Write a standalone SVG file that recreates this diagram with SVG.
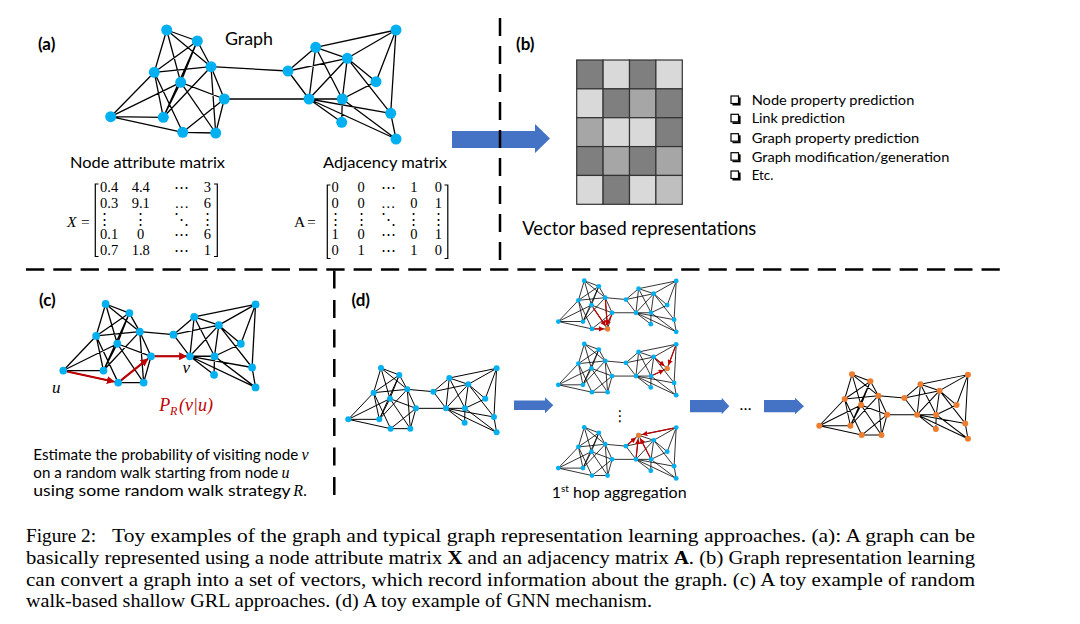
<svg xmlns="http://www.w3.org/2000/svg" width="1080" height="624" viewBox="0 0 1080 624">
<style>
.t{font-family:Lato,"Liberation Sans",sans-serif;fill:#000}
.b{font-weight:bold}
.m{font-family:"Liberation Serif","DejaVu Serif",serif;fill:#000}
.i{font-style:italic}
.cap{font-family:"Liberation Serif","Times New Roman",serif;font-size:19.5px;fill:#000}
.edges{fill:none;stroke:#000}
.dash{fill:none;stroke:#000;stroke-width:2.5}
.red{fill:none;stroke:#C00000}
.barrow{fill:#4472C4}
.br{fill:none;stroke:#000;stroke-width:1.2}
.cell{stroke:#333;stroke-width:1.2}
.chk{fill:#fff;stroke:#000;stroke-width:1.2}
</style>
<defs>
<marker id="ar" viewBox="0 0 10 10" refX="8" refY="5" markerWidth="4" markerHeight="4" orient="auto"><path d="M0,0L10,5L0,10z" fill="#C00000"/></marker>
<marker id="ar2" viewBox="0 0 10 10" refX="8" refY="5" markerWidth="4.5" markerHeight="4.5" orient="auto"><path d="M0,0L10,5L0,10z" fill="#C00000"/></marker>
<g id="gB">
<path class="edges" stroke-width="3" d="M98,0L153,21M98,0L76,74M98,0L177,64M98,0L125,92M153,21L76,74M153,21L177,64M153,21L125,92M153,21L93,154M76,74L177,64M76,74L0,154M76,74L93,154M76,74L127,182M177,64L203,121M177,64L93,154M177,64L186,182M177,64L255,71M125,92L203,121M125,92L0,154M125,92L93,154M125,92L186,182M203,121L127,182M203,121L186,182M203,121L293,121M0,154L93,154M0,154L127,182M127,182L186,182M255,71L303,30M255,71L360,49M255,71L293,121M303,30L360,49M303,30L445,1M303,30L293,121M303,30L350,121M360,49L445,1M360,49L411,92M360,49L293,121M360,49L350,121M360,49L437,147M445,1L411,92M445,1L437,147M411,92L350,121M293,121L350,121M293,121L437,147M293,121L349,164M293,121L445,193M350,121L349,164M350,121L445,193M437,147L445,193"/>
<circle cx="98" cy="0" r="9"/><circle cx="153" cy="21" r="9"/><circle cx="76" cy="74" r="9"/><circle cx="177" cy="64" r="9"/><circle cx="125" cy="92" r="9"/><circle cx="203" cy="121" r="9"/><circle cx="0" cy="154" r="9"/><circle cx="93" cy="154" r="9"/><circle cx="127" cy="182" r="9"/><circle cx="186" cy="182" r="9"/><circle cx="255" cy="71" r="9"/><circle cx="303" cy="30" r="9"/><circle cx="360" cy="49" r="9"/><circle cx="445" cy="1" r="9"/><circle cx="411" cy="92" r="9"/><circle cx="293" cy="121" r="9"/><circle cx="350" cy="121" r="9"/><circle cx="437" cy="147" r="9"/><circle cx="349" cy="164" r="9"/><circle cx="445" cy="193" r="9"/>
</g>
</defs>
<rect width="1080" height="624" fill="#fff"/>

<!-- Panel (a) -->
<g id="panel-a">
<text class="t b" x="38" y="50" font-size="17">(a)</text>
<text class="t" x="225" y="45" font-size="17" textLength="48" lengthAdjust="spacingAndGlyphs">Graph</text>
<g id="graph-a">
<path class="edges" stroke-width="1.3" d="M166.7,30L197.3,41M166.7,30L154.3,72.3M166.7,30L211,66.7M166.7,30L180.7,82.3M197.3,41L154.3,72.3M197.3,41L211,66.7M197.3,41L180.7,82.3M197.3,41L163.3,117.3M154.3,72.3L211,66.7M154.3,72.3L110.7,116.7M154.3,72.3L163.3,117.3M154.3,72.3L182.7,132.3M211,66.7L224.3,99M211,66.7L163.3,117.3M211,66.7L215.7,133M211,66.7L288,71M180.7,82.3L224.3,99M180.7,82.3L110.7,116.7M180.7,82.3L163.3,117.3M180.7,82.3L215.7,133M224.3,99L182.7,132.3M224.3,99L215.7,133M224.3,99L309,99M110.7,116.7L163.3,117.3M110.7,116.7L182.7,132.3M182.7,132.3L215.7,133M288,71L315.7,47.3M288,71L347.3,58.3M288,71L309,99M315.7,47.3L347.3,58.3M315.7,47.3L396,30M315.7,47.3L309,99M315.7,47.3L342.3,99M347.3,58.3L396,30M347.3,58.3L376,81.7M347.3,58.3L309,99M347.3,58.3L342.3,99M347.3,58.3L390.7,113.3M396,30L376,81.7M396,30L390.7,113.3M376,81.7L342.3,99M309,99L342.3,99M309,99L390.7,113.3M309,99L341.7,122.3M309,99L396,139M342.3,99L341.7,122.3M342.3,99L396,139M390.7,113.3L396,139"/>
<g fill="#00B0F0">
<circle cx="166.7" cy="30" r="5.5"/><circle cx="197.3" cy="41" r="5.5"/><circle cx="154.3" cy="72.3" r="5.5"/><circle cx="211" cy="66.7" r="5.5"/><circle cx="180.7" cy="82.3" r="5.5"/><circle cx="224.3" cy="99" r="5.5"/><circle cx="110.7" cy="116.7" r="5.5"/><circle cx="163.3" cy="117.3" r="5.5"/><circle cx="182.7" cy="132.3" r="5.5"/><circle cx="215.7" cy="133" r="5.5"/><circle cx="288" cy="71" r="5.5"/><circle cx="315.7" cy="47.3" r="5.5"/><circle cx="347.3" cy="58.3" r="5.5"/><circle cx="396" cy="30" r="5.5"/><circle cx="376" cy="81.7" r="5.5"/><circle cx="309" cy="99" r="5.5"/><circle cx="342.3" cy="99" r="5.5"/><circle cx="390.7" cy="113.3" r="5.5"/><circle cx="341.7" cy="122.3" r="5.5"/><circle cx="396" cy="139" r="5.5"/>
</g>
</g>
<g id="matrix-x">
<text class="t" x="70" y="168" font-size="16" textLength="155" lengthAdjust="spacingAndGlyphs">Node attribute matrix</text>
<text class="m i" x="67" y="227" font-size="15.5">X</text>
<text class="m" x="81" y="227" font-size="15.5">=</text>
<path class="br" d="M98.5,184H95.3V256.5H98.5M214,184H217.3V256.5H214"/>
<g class="m" font-size="14.5">
<text x="100" y="191.5">0.4</text><text x="100" y="207.5">0.3</text><text x="100" y="239">0.1</text><text x="100" y="255">0.7</text>
<text x="104" y="224" text-anchor="middle">⋮</text>
<g text-anchor="middle">
<text x="140.7" y="191.5">4.4</text><text x="140.7" y="207.5">9.1</text><text x="140.7" y="224">⋮</text><text x="140.7" y="239">0</text><text x="140.7" y="255">1.8</text>
<text x="181.7" y="191.5">⋯</text><text x="181.7" y="207.5">…</text><text x="181.7" y="224">⋱</text><text x="181.7" y="239">⋯</text><text x="181.7" y="255">⋯</text>
<text x="207.3" y="191.5">3</text><text x="207.3" y="207.5">6</text><text x="207.3" y="224">⋮</text><text x="207.3" y="239">6</text><text x="207.3" y="255">1</text>
</g>
</g>
</g>
<g id="matrix-a">
<text class="t" x="323" y="168" font-size="16" textLength="124" lengthAdjust="spacingAndGlyphs">Adjacency matrix</text>
<text class="m" x="294" y="227" font-size="15.5">A</text>
<text class="m" x="307" y="227" font-size="15.5">=</text>
<path class="br" d="M330.5,185H327.3V258.5H330.5M444.5,185H447.8V258.5H444.5"/>
<g class="m" font-size="14.5" text-anchor="middle">
<text x="335" y="191.5">0</text><text x="335" y="207.5">0</text><text x="335" y="224">⋮</text><text x="335" y="239">1</text><text x="335" y="255">0</text>
<text x="361" y="191.5">0</text><text x="361" y="207.5">0</text><text x="361" y="224">⋮</text><text x="361" y="239">0</text><text x="361" y="255">1</text>
<text x="388.3" y="191.5">⋯</text><text x="388.3" y="207.5">…</text><text x="388.3" y="224">⋱</text><text x="388.3" y="239">⋯</text><text x="388.3" y="255">⋯</text>
<text x="413.8" y="191.5">1</text><text x="413.8" y="207.5">0</text><text x="413.8" y="224">⋮</text><text x="413.8" y="239">0</text><text x="413.8" y="255">1</text>
<text x="438.3" y="191.5">0</text><text x="438.3" y="207.5">1</text><text x="438.3" y="224">⋮</text><text x="438.3" y="239">1</text><text x="438.3" y="255">0</text>
</g>
</g>
</g>

<!-- Panel (b) -->
<g id="panel-b">
<polygon class="barrow" points="452,131 535,131 535,124 550,138.5 535,153 535,148 452,148"/>
<text class="t b" x="516" y="50" font-size="17">(b)</text>
<g id="vector-grid" class="cell">
<rect x="576.7" y="60" width="26.4" height="28.86" fill="#7F7F7F"/><rect x="603.1" y="60" width="26.4" height="28.86" fill="#D9D9D9"/><rect x="629.5" y="60" width="26.4" height="28.86" fill="#7F7F7F"/><rect x="655.9" y="60" width="26.4" height="28.86" fill="#D9D9D9"/>
<rect x="576.7" y="88.86" width="26.4" height="28.86" fill="#D9D9D9"/><rect x="603.1" y="88.86" width="26.4" height="28.86" fill="#7F7F7F"/><rect x="629.5" y="88.86" width="26.4" height="28.86" fill="#A6A6A6"/><rect x="655.9" y="88.86" width="26.4" height="28.86" fill="#7F7F7F"/>
<rect x="576.7" y="117.72" width="26.4" height="28.86" fill="#A6A6A6"/><rect x="603.1" y="117.72" width="26.4" height="28.86" fill="#D9D9D9"/><rect x="629.5" y="117.72" width="26.4" height="28.86" fill="#D9D9D9"/><rect x="655.9" y="117.72" width="26.4" height="28.86" fill="#7F7F7F"/>
<rect x="576.7" y="146.58" width="26.4" height="28.86" fill="#7F7F7F"/><rect x="603.1" y="146.58" width="26.4" height="28.86" fill="#A6A6A6"/><rect x="629.5" y="146.58" width="26.4" height="28.86" fill="#7F7F7F"/><rect x="655.9" y="146.58" width="26.4" height="28.86" fill="#A6A6A6"/>
<rect x="576.7" y="175.44" width="26.4" height="28.86" fill="#D9D9D9"/><rect x="603.1" y="175.44" width="26.4" height="28.86" fill="#7F7F7F"/><rect x="629.5" y="175.44" width="26.4" height="28.86" fill="#D9D9D9"/><rect x="655.9" y="175.44" width="26.4" height="28.86" fill="#BFBFBF"/>
</g>
<g id="task-list">
<rect class="chk" x="731" y="96" width="7.5" height="7.5"/><path d="M732.5,104.8H739.8V97.5" fill="none" stroke="#000" stroke-width="1.6"/>
<rect class="chk" x="731" y="114.3" width="7.5" height="7.5"/><path d="M732.5,123.1H739.8V115.8" fill="none" stroke="#000" stroke-width="1.6"/>
<rect class="chk" x="731" y="133.7" width="7.5" height="7.5"/><path d="M732.5,142.5H739.8V135.2" fill="none" stroke="#000" stroke-width="1.6"/>
<rect class="chk" x="731" y="152.7" width="7.5" height="7.5"/><path d="M732.5,161.5H739.8V154.2" fill="none" stroke="#000" stroke-width="1.6"/>
<rect class="chk" x="731" y="171" width="7.5" height="7.5"/><path d="M732.5,179.8H739.8V172.5" fill="none" stroke="#000" stroke-width="1.6"/>
<g class="t" font-size="14">
<text x="751.7" y="105" textLength="162.6" lengthAdjust="spacingAndGlyphs">Node property prediction</text>
<text x="751.7" y="123.3" textLength="93.3" lengthAdjust="spacingAndGlyphs">Link prediction</text>
<text x="751.7" y="142.7" textLength="167.6" lengthAdjust="spacingAndGlyphs">Graph property prediction</text>
<text x="751.7" y="161.7" textLength="197.6" lengthAdjust="spacingAndGlyphs">Graph modification/generation</text>
<text x="751.7" y="180" textLength="21.7" lengthAdjust="spacingAndGlyphs">Etc.</text>
</g>
</g>
<text class="t" x="522.3" y="234.5" font-size="18.5" textLength="234" lengthAdjust="spacingAndGlyphs">Vector based representations</text>
</g>

<!-- Panel (c) -->
<g id="panel-c">
<text class="t b" x="39" y="306" font-size="17">(c)</text>
<use href="#gB" fill="#00B0F0" transform="translate(63.3,304) scale(0.432)"/>
<g class="red" stroke-width="2" marker-end="url(#ar)">
<path d="M67.2,371.4L113.3,381.5"/>
<path d="M121.3,380.1L147.1,359.4"/>
<path d="M155,356.3L185.5,356.3"/>
</g>
<text class="m i" x="52" y="393" font-size="17">u</text>
<text class="m i" x="182.5" y="373" font-size="17">v</text>
<g class="m i">
<text x="159.3" y="411" font-size="18" style="fill:#C00000">P</text>
<text x="170" y="415" font-size="12" style="fill:#C00000">R</text>
<text x="179" y="411" font-size="18" style="fill:#C00000">(v|u)</text>
</g>
<g class="t" font-size="15">
<text x="33.3" y="460" textLength="265" lengthAdjust="spacingAndGlyphs">Estimate the probability of visiting node</text>
<text x="33.3" y="478" textLength="245" lengthAdjust="spacingAndGlyphs">on a random walk starting from node</text>
<text x="33.3" y="496" textLength="257.4" lengthAdjust="spacingAndGlyphs">using some random walk strategy</text>
</g>
<text class="m i" x="301.5" y="460" font-size="16">v</text>
<text class="m i" x="281.5" y="478" font-size="16">u</text>
<text class="m i" x="293.3" y="496" font-size="16">R<tspan font-style="normal">.</tspan></text>
</g>

<!-- Panel (d) -->
<g id="panel-d">
<text class="t b" x="351.5" y="306" font-size="17">(d)</text>
<use id="d-input" href="#gB" fill="#00B0F0" transform="translate(348.3,368) scale(0.3333)"/>
<polygon class="barrow" points="514,400.5 545,400.5 545,397.3 553.3,405.3 545,413.3 545,410 514,410"/>
<g id="d-hop1">
<use href="#gB" fill="#00B0F0" transform="translate(558.3,280.7) scale(0.265)"/>
<circle cx="607.6" cy="328.9" r="2.6" fill="#ED7D31"/>
<g class="red" stroke-width="1.2" marker-end="url(#ar2)">
<path d="M593.1,307.6L605.1,325.2"/><path d="M605.4,300.2L607.3,324.4"/><path d="M611.6,315.2L606.4,324.6"/><path d="M594.5,328.9L603.1,328.9"/>
</g>
</g>
<g id="d-hop2">
<use href="#gB" fill="#00B0F0" transform="translate(558.3,344) scale(0.265)"/>
<circle cx="667.2" cy="368.4" r="2.6" fill="#ED7D31"/>
<g class="red" stroke-width="1.2" marker-end="url(#ar2)">
<path d="M675.3,346.6L668.8,364.2"/><path d="M655.6,358.6L663.8,365.5"/><path d="M653.3,375L663.1,370.4"/>
</g>
</g>
<text x="620" y="421" font-size="15" text-anchor="middle" style="font-family:'DejaVu Sans',sans-serif">⋮</text>
<g id="d-hop3">
<use href="#gB" fill="#00B0F0" transform="translate(558.3,427.3) scale(0.265)"/>
<circle cx="638.6" cy="435.3" r="2.6" fill="#ED7D31"/>
<g class="red" stroke-width="1.2" marker-end="url(#ar2)">
<path d="M673.8,428.1L643,434.4"/><path d="M627.8,444.5L635.2,438.2"/><path d="M636.2,457L638.1,439.8"/><path d="M650,457.3L640.7,439.3"/>
</g>
</g>
<text class="t" x="551.7" y="498" font-size="16">1<tspan font-size="10" dy="-6">st</tspan><tspan dy="6"> hop aggregation</tspan></text>
<polygon class="barrow" points="690,400 721.7,400 721.7,397.7 729.3,406.2 721.7,414.3 721.7,412.3 690,412.3"/>
<text class="t" x="739.5" y="410" font-size="16">…</text>
<polygon class="barrow" points="764,400 795,400 795,397.7 804,406.2 795,414.3 795,412.3 764,412.3"/>
<use id="d-output" href="#gB" fill="#ED7D31" transform="translate(819.3,374.3) scale(0.334)"/>
</g>

<!-- dividers -->
<g id="dividers">
<path class="dash" d="M26,269.5H1000" stroke-dasharray="18.3 9"/>
<path class="dash" d="M500,18V268" stroke-dasharray="18 10"/>
<path class="dash" d="M334.3,270.5V500" stroke-dasharray="18 11.5"/>
</g>

<!-- caption -->
<g id="caption">
<text class="cap" x="26" y="542" textLength="70" lengthAdjust="spacingAndGlyphs">Figure 2:</text>
<text class="cap" x="112" y="542" textLength="863" lengthAdjust="spacingAndGlyphs">Toy examples of the graph and typical graph representation learning approaches. (a): A graph can be</text>
<text class="cap" x="26" y="564" textLength="949" lengthAdjust="spacingAndGlyphs">basically represented using a node attribute matrix <tspan font-weight="bold">X</tspan> and an adjacency matrix <tspan font-weight="bold">A</tspan>. (b) Graph representation learning</text>
<text class="cap" x="26" y="585.5" textLength="949" lengthAdjust="spacingAndGlyphs">can convert a graph into a set of vectors, which record information about the graph. (c) A toy example of random</text>
<text class="cap" x="26" y="607" textLength="626" lengthAdjust="spacingAndGlyphs">walk-based shallow GRL approaches. (d) A toy example of GNN mechanism.</text>
</g>
</svg>
